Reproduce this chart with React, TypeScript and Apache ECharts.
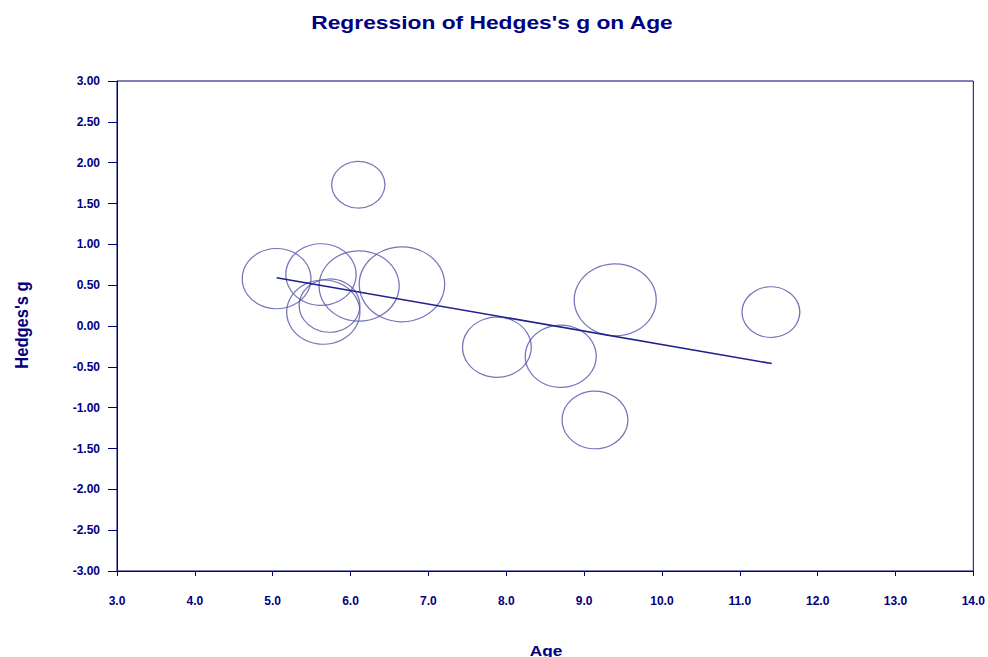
import React, { useEffect, useRef } from "react";
import * as echarts from "echarts";

const ages = [6.1, 5.05, 5.62, 5.65, 5.73, 6.11, 6.66, 7.88, 8.7, 9.4, 9.14, 11.4];
const hedgesG = [1.73, 0.58, 0.63, 0.17, 0.25, 0.49, 0.51, -0.26, -0.37, 0.32, -1.15, 0.17];
const weights = [46.7, 60.3, 61.7, 64.3, 53.3, 70.3, 75, 60.3, 62.3, 72, 57.7, 50.7];
const regressionX = [5.05, 11.41];
const regressionY = [0.59, -0.46];
const xTicks = [3, 4, 5, 6, 7, 8, 9, 10, 11, 12, 13, 14];
const yTicks = [-3, -2.5, -2, -1.5, -1, -0.5, 0, 0.5, 1, 1.5, 2, 2.5, 3];
const titleText = "Regression of Hedges's g on Age";
const xName = "Age";
const yName = "Hedges's g";

const NAVY = "#000080";
const FONT = "Liberation Sans, Arial, sans-serif";

export default function App() {
  const ref = useRef<HTMLDivElement>(null);
  useEffect(() => {
    if (!ref.current) return;
    const chart = echarts.init(ref.current, undefined, { renderer: "svg" });
    const bubbles = ages.map((a, i) => [a, hedgesG[i], weights[i]]);
    chart.setOption({
      animation: false,
      backgroundColor: "#ffffff",
      graphic: [
        {
          type: "text",
          x: 492,
          y: 22,
          scaleX: 1.2,
          style: {
            text: titleText,
            fill: NAVY,
            font: `bold 19px ${FONT}`,
            textAlign: "center",
            textVerticalAlign: "middle",
          },
        },
        {
          type: "text",
          x: 546,
          y: 650,
          scaleX: 1.15,
          style: {
            text: xName,
            fill: NAVY,
            font: `bold 15px ${FONT}`,
            textAlign: "center",
            textVerticalAlign: "middle",
          },
        },
        {
          type: "text",
          x: 21.5,
          y: 325,
          rotation: Math.PI / 2,
          scaleY: 1.1,
          style: {
            text: yName,
            fill: NAVY,
            font: `bold 16.5px ${FONT}`,
            textAlign: "center",
            textVerticalAlign: "middle",
          },
        },
      ],
      grid: { left: 117, right: 13, top: 81, bottom: 86, show: true, borderColor: NAVY, borderWidth: 1, backgroundColor: "transparent" },
      xAxis: {
        type: "value",
        min: xTicks[0],
        max: xTicks[xTicks.length - 1],
        interval: 1,
        axisLine: { show: true, onZero: false, lineStyle: { color: NAVY, width: 1 } },
        axisTick: { show: true, length: 5, inside: false, lineStyle: { color: NAVY } },
        axisLabel: {
          color: NAVY,
          fontFamily: FONT,
          fontWeight: "bold",
          fontSize: 12,
          margin: 24,
          formatter: (v: number) => v.toFixed(1),
        },
        splitLine: { show: false },
      },
      yAxis: {
        type: "value",
        min: yTicks[0],
        max: yTicks[yTicks.length - 1],
        interval: 0.5,
        axisLine: { show: true, onZero: false, lineStyle: { color: NAVY, width: 1 } },
        axisTick: { show: true, length: 9, lineStyle: { color: NAVY } },
        axisLabel: {
          color: NAVY,
          fontFamily: FONT,
          fontWeight: "bold",
          fontSize: 12,
          margin: 17,
          formatter: (v: number) => v.toFixed(2),
        },
        splitLine: { show: false },
      },
      series: [
        {
          type: "scatter",
          data: bubbles,
          symbol: "circle",
          symbolSize: (d: number[]) => [d[2] * 1.14, d[2]],
          itemStyle: { color: "rgba(0,0,0,0)", borderColor: "#5252aa", borderWidth: 1.2 },
          emphasis: { disabled: true },
          z: 2,
        },
        {
          type: "line",
          data: regressionX.map((x, i) => [x, regressionY[i]]),
          showSymbol: false,
          symbol: "none",
          lineStyle: { color: "#20208e", width: 1.6 },
          z: 3,
        },
      ],
    });
    return () => chart.dispose();
  }, []);
  return <div ref={ref} style={{ width: 988, height: 657, position: "absolute", left: 0, top: 0 }} />;
}
